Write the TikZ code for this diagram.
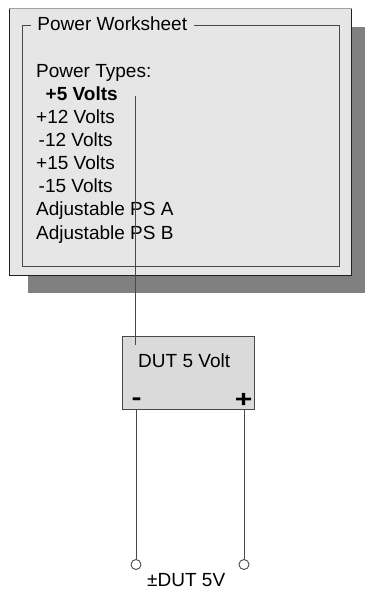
\documentclass[tikz,border=0pt]{standalone}
\usepackage{fontspec}
\setmainfont{Liberation Sans}
\definecolor{panelfill}{RGB}{230,230,230}
\definecolor{boxfill}{RGB}{218,218,218}
\definecolor{shadowgray}{RGB}{128,128,128}
\definecolor{edgedark}{RGB}{32,32,32}
\definecolor{edgelight}{RGB}{160,160,160}
\definecolor{wiregray}{RGB}{72,72,72}
\tikzset{
  label text/.style={anchor=base west, inner sep=0pt, font=\fontsize{19}{23}\selectfont},
  sign text/.style={anchor=base, inner sep=0pt, font=\fontsize{24}{28}\selectfont\bfseries},
  wire/.style={draw=wiregray, line width=1pt},
  terminal/.style={circle, draw=wiregray, fill=white, line width=0.9pt, minimum size=10pt, inner sep=0pt},
  dutbox/.style={rectangle, draw=wiregray, fill=boxfill, line width=1pt, minimum width=132.3pt, minimum height=72.6pt, inner sep=0pt}
}
\begin{document}
\begin{tikzpicture}[x=1pt, y=-1pt]
\useasboundingbox (0,0) rectangle (365,590);

% worksheet panel with drop shadow
\fill[shadowgray] (28,27) rectangle (365,293.3);
\fill[panelfill] (9,8.3) rectangle (351.7,275.3);
\draw[edgedark, line width=1pt] (9,8.3) rectangle (351.7,275.3);
\draw[edgelight, line width=1pt] (9,8.3) -- (351.7,8.3);

% group frame and its title
\draw[wiregray, line width=1pt] (22.7,25) rectangle (339,266);
\node[label text, fill=panelfill, inner xsep=7pt] (title) at (30.3,30.7) {Power Worksheet};

% list of power types
\node[label text] (types) at (36,77.7) {Power Types:};
\node[label text, font=\fontsize{19}{23}\selectfont\bfseries] (p5) at (45.5,100.7) {+5 Volts};
\node[label text] (p12) at (36,123.8) {+12 Volts};
\node[label text] (m12) at (38.5,146.8) {-12 Volts};
\node[label text] (p15) at (36,169.9) {+15 Volts};
\node[label text] (m15) at (38.5,192.9) {-15 Volts};
\node[label text] (adja) at (36,215.9) {Adjustable PS A};
\node[label text] (adjb) at (36,239) {Adjustable PS B};

% DUT supply box
\node[dutbox] (dut) at (188.15,373) {};
\node[label text] (dutlabel) at (138,367.3) {DUT 5 Volt};
\node[sign text] (minus) at (136.7,405.7) {\scalebox{1.25}[1]{-}};
\node[sign text] (plus) at (243.7,407.7) {\scalebox{1.25}[1]{+}};

% output terminals
\node[terminal] (negterm) at (136,564.5) {};
\node[terminal] (posterm) at (244,564.5) {};
\node[label text] (outlabel) at (147,586) {±DUT 5V};

% connectors
\coordinate (tap) at (135.5,96);
\coordinate (tapend) at (135.5,345);
\draw[wire] (tap) -- (tapend);
\draw[wire] (negterm.north) -- (negterm |- dut.south);
\draw[wire] (posterm.north) -- (posterm |- dut.south);
\end{tikzpicture}
\end{document}
